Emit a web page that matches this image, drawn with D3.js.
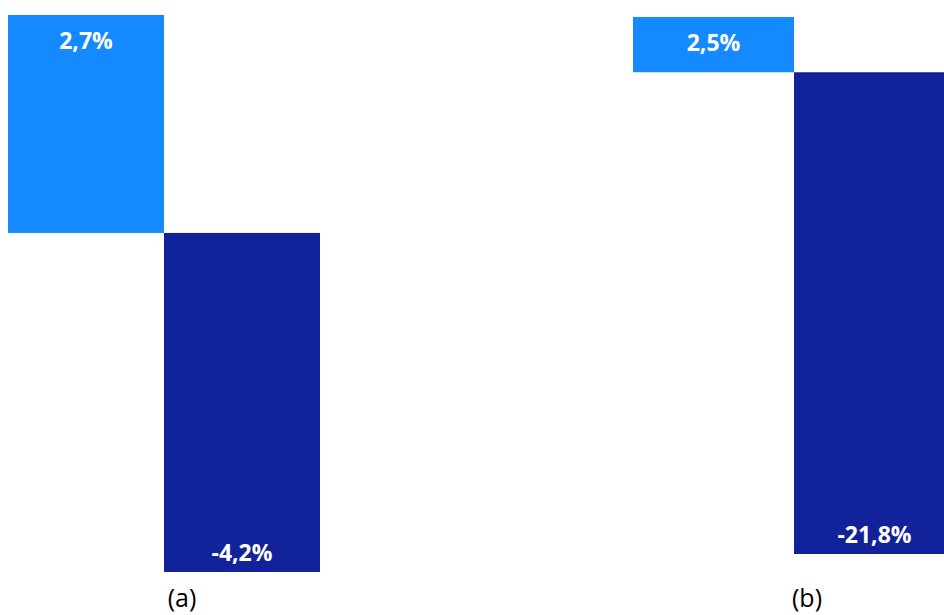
<!DOCTYPE html>
<html>
<head>
<meta charset="utf-8">
<script src="https://cdn.jsdelivr.net/npm/d3@7"></script>
<style>
  html, body { margin: 0; padding: 0; background: #fff; }
  svg { display: block; }
</style>
</head>
<body>
<svg id="chart" width="944" height="615"></svg>
<script>
// Panel data: two change bars per panel (first positive, second negative)
const panelNames = ["(a)", "(b)"];
const categories = ["antes", "depois"];
const valuesA = [2.7, -4.2];
const valuesB = [2.5, -21.8];
const barColors = ["#1589FF", "#12229B"];

// Portuguese-style percentage: decimal comma, plain hyphen for negatives
const fmt = v => (v < 0 ? "-" : "") + d3.format(".1f")(Math.abs(v)).replace(".", ",") + "%";

const svg = d3.select("#chart");

// Layout per panel: horizontal extent, vertical extent and caption position
const panels = [
  { name: panelNames[0], values: valuesA, x0: 8, x1: 320, top: 15, bottom: 572, capX: 182 },
  { name: panelNames[1], values: valuesB, x0: 633, x1: 955, top: 17, bottom: 554, capX: 807 }
];

panels.forEach(p => {
  const g = svg.append("g");
  const x = d3.scaleBand().domain(categories).range([p.x0, p.x1]).padding(0);
  const y = d3.scaleLinear()
    .domain([d3.min(p.values), d3.max(p.values)])
    .range([p.bottom, p.top]);

  const data = categories.map((c, i) => ({ c, v: p.values[i], i }));

  g.selectAll("rect").data(data).join("rect")
    .attr("x", d => x(d.c))
    .attr("width", x.bandwidth())
    .attr("y", d => y(Math.max(0, d.v)))
    .attr("height", d => Math.abs(y(d.v) - y(0)))
    .attr("fill", d => barColors[d.i]);

  g.selectAll("text.val").data(data).join("text")
    .attr("class", "val")
    .attr("x", d => x(d.c) + x.bandwidth() / 2)
    .attr("y", d => d.v >= 0 ? y(d.v) + 34 : y(d.v) - 11)
    .attr("text-anchor", "middle")
    .attr("fill", "#fff")
    .attr("font-family", "'Open Sans', sans-serif")
    .attr("font-weight", "bold")
    .attr("font-size", 23)
    .text(d => fmt(d.v));

  svg.append("text")
    .attr("x", p.capX)
    .attr("y", 607)
    .attr("text-anchor", "middle")
    .attr("fill", "#000")
    .attr("font-family", "'Open Sans', sans-serif")
    .attr("font-size", 25)
    .text(p.name);
});
</script>
</body>
</html>
